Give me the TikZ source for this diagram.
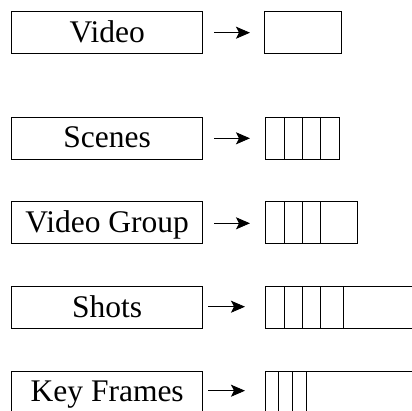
\documentclass[tikz,border=0pt]{standalone}
\usepackage{fontspec}
\setmainfont{Liberation Serif}
\usetikzlibrary{arrows.meta}
\tikzset{
  lbox/.style={draw, line width=0.9pt, minimum width=191pt, minimum height=42pt,
    inner sep=0pt, outer sep=0pt, text height=19pt, text depth=0pt,
    font=\fontsize{31.5}{36}\selectfont},
  rbox/.style={draw, line width=0.9pt, minimum height=42pt, inner sep=0pt, outer sep=0pt, anchor=north west},
  divider/.style={line width=0.9pt},
  conn/.style={line width=0.9pt, -{Stealth[length=14pt,width=12pt,inset=3pt]}}
}
\begin{document}
\begin{tikzpicture}[x=1pt,y=-1pt]
\useasboundingbox (0,0) rectangle (412,410);
\clip (0,0) rectangle (412,410);
% Row 1: Video
\node[lbox] (l1) at (107.2,32.5) {Video};
\node[rbox, minimum width=77pt] (r1) at (264,11.7) {};
\draw[conn, shorten <=11.3pt, shorten >=14pt] (l1.east |- 0,32.7) -- (r1.west |- 0,32.7);
% Row 2: Scenes
\node[lbox] (l2) at (107.2,138.2) {Scenes};
\node[rbox, minimum width=73.6pt] (r2) at (265.7,117.2) {};
\foreach \x in {284,302.7,320.7} \draw[divider] (\x,117.2) -- (\x,159.2);
\draw[conn, shorten <=11.3pt, shorten >=15.7pt] (l2.east |- 0,138.3) -- (r2.west |- 0,138.3);
% Row 3: Video Group
\node[lbox] (l3) at (107.2,222.85) {Video Group};
\node[rbox, minimum width=92pt] (r3) at (265.7,201.8) {};
\foreach \x in {284,302.7,320.7} \draw[divider] (\x,201.8) -- (\x,243.8);
\draw[conn, shorten <=11.3pt, shorten >=15.7pt] (l3.east |- 0,223.3) -- (r3.west |- 0,223.3);
% Row 4: Shots
\node[lbox] (l4) at (107.2,307.7) {Shots};
\node[rbox, minimum width=170pt] (r4) at (265.7,286.7) {};
\foreach \x in {284,302.7,320.7,343.3} \draw[divider] (\x,286.7) -- (\x,328.7);
\draw[conn, shorten <=5.6pt, shorten >=20.7pt] (l4.east |- 0,306.7) -- (r4.west |- 0,306.7);
% Row 5: Key Frames
\node[lbox] (l5) at (107.2,392) {Key Frames};
\node[rbox, minimum width=170pt] (r5) at (265.7,371) {};
\foreach \x in {278.3,292.7,306} \draw[divider] (\x,371) -- (\x,413);
\draw[conn, shorten <=5.6pt, shorten >=20.7pt] (l5.east |- 0,390.7) -- (r5.west |- 0,390.7);
\end{tikzpicture}
\end{document}
